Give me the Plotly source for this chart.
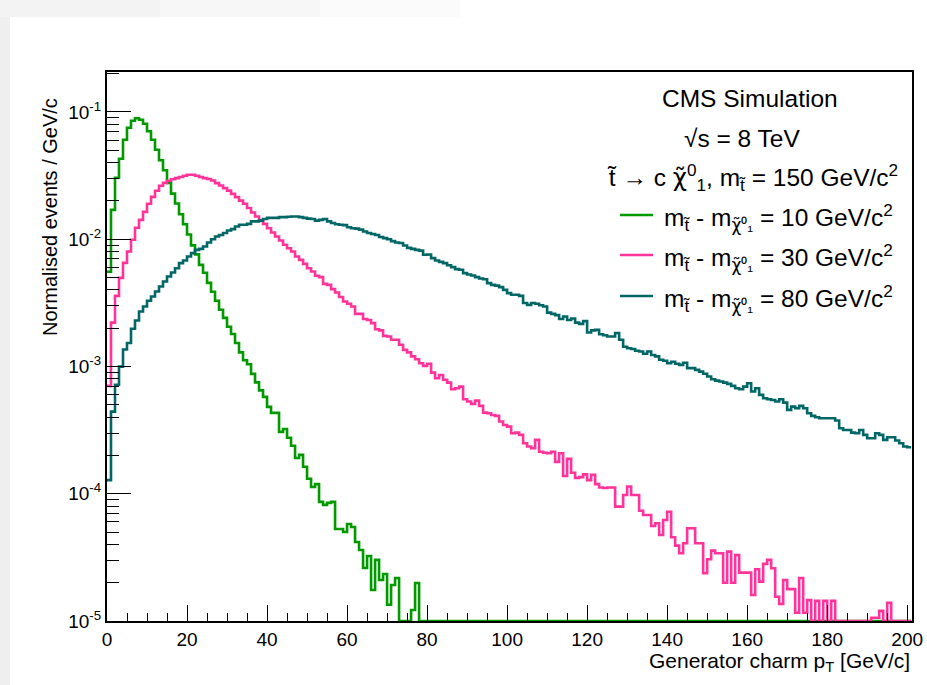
import numpy as np
import plotly.graph_objects as go

# ---------------- data (normalised events / GeV/c, 1 GeV/c bins starting at 0) ----------------
bin_width = 1.0
x_tick_vals = [0, 20, 40, 60, 80, 100, 120, 140, 160, 180, 200]
y_tick_vals = [1e-5, 1e-4, 1e-3, 1e-2, 1e-1]
y_tick_text = ["10<sup>-5</sup>", "10<sup>-4</sup>", "10<sup>-3</sup>", "10<sup>-2</sup>", "10<sup>-1</sup>"]

# dm = 10 GeV/c^2 (bins 0-77, empty afterwards)
green_dm10 = [
    5.55e-3, 1.70e-2, 3.04e-2, 4.29e-2, 6.04e-2, 7.52e-2, 8.53e-2, 8.91e-2, 8.69e-2, 8.07e-2,
    7.05e-2, 6.04e-2, 5.04e-2, 4.17e-2, 3.48e-2, 2.77e-2, 2.28e-2, 1.91e-2, 1.57e-2, 1.31e-2,
    1.09e-2, 8.95e-3, 7.60e-3, 6.29e-3, 5.45e-3, 4.54e-3, 3.86e-3, 3.28e-3, 2.79e-3, 2.41e-3,
    2.05e-3, 1.80e-3, 1.53e-3, 1.29e-3, 1.12e-3, 1.04e-3, 8.75e-4, 7.50e-4, 6.49e-4, 5.77e-4,
    4.81e-4, 4.32e-4, 4.32e-4, 3.06e-4, 3.23e-4, 2.75e-4, 2.38e-4, 1.91e-4, 2.02e-4, 1.63e-4,
    1.31e-4, 1.13e-4, 1.19e-4, 8.63e-5, 8.17e-5, 8.48e-5, 8.63e-5, 5.29e-5, 5.29e-5, 5.01e-5,
    5.79e-5, 5.48e-5, 4.18e-5, 3.61e-5, 2.61e-5, 3.24e-5, 1.75e-5, 3.02e-5, 2.10e-5, 2.34e-5,
    1.34e-5, 1.92e-5, 2.18e-5, 0, 0, 0, 1.22e-5, 1.99e-5,
] + [0] * 123

# dm = 30 GeV/c^2
pink_dm30 = [
    7.04e-4, 2.21e-3, 3.59e-3, 4.97e-3, 6.52e-3, 8.00e-3, 9.89e-3, 1.23e-2, 1.42e-2, 1.64e-2,
    1.90e-2, 2.15e-2, 2.40e-2, 2.63e-2, 2.77e-2, 2.88e-2, 2.96e-2, 3.02e-2, 3.08e-2, 3.15e-2,
    3.21e-2, 3.21e-2, 3.15e-2, 3.08e-2, 3.02e-2, 2.97e-2, 2.89e-2, 2.76e-2, 2.64e-2, 2.52e-2,
    2.41e-2, 2.27e-2, 2.14e-2, 2.01e-2, 1.90e-2, 1.76e-2, 1.62e-2, 1.51e-2, 1.40e-2, 1.32e-2,
    1.22e-2, 1.13e-2, 1.05e-2, 9.78e-3, 9.04e-3, 8.50e-3, 8.00e-3, 7.32e-3, 6.88e-3, 6.40e-3,
    5.92e-3, 5.57e-3, 5.16e-3, 5.04e-3, 4.46e-3, 4.38e-3, 4.05e-3, 3.81e-3, 3.51e-3, 3.24e-3,
    3.11e-3, 2.96e-3, 2.59e-3, 2.59e-3, 2.36e-3, 2.32e-3, 2.19e-3, 1.96e-3, 1.92e-3, 1.74e-3,
    1.72e-3, 1.62e-3, 1.62e-3, 1.48e-3, 1.35e-3, 1.29e-3, 1.20e-3, 1.14e-3, 1.06e-3, 1.01e-3,
    1.05e-3, 8.95e-4, 8.09e-4, 8.56e-4, 7.86e-4, 7.47e-4, 6.63e-4, 6.75e-4, 6.94e-4, 5.53e-4,
    5.30e-4, 5.08e-4, 5.39e-4, 4.90e-4, 4.34e-4, 4.29e-4, 4.16e-4, 4.09e-4, 3.69e-4, 3.47e-4,
    3.37e-4, 2.99e-4, 3.02e-4, 2.90e-4, 2.49e-4, 2.35e-4, 2.28e-4, 2.65e-4, 2.14e-4, 2.10e-4,
    2.08e-4, 2.14e-4, 1.78e-4, 2.08e-4, 1.38e-4, 1.88e-4, 1.46e-4, 1.33e-4, 1.35e-4, 1.42e-4,
    1.28e-4, 1.41e-4, 1.19e-4, 1.12e-4, 1.11e-4, 1.12e-4, 1.12e-4, 7.92e-5, 7.92e-5, 9.78e-5,
    1.14e-4, 9.78e-5, 9.78e-5, 7.36e-5, 6.81e-5, 6.81e-5, 5.58e-5, 5.86e-5, 4.74e-5, 6.22e-5,
    7.22e-5, 4.55e-5, 3.91e-5, 3.41e-5, 4.08e-5, 5.35e-5, 5.35e-5, 4.08e-5, 4.08e-5, 2.37e-5,
    3.06e-5, 3.57e-5, 3.41e-5, 3.41e-5, 2.00e-5, 3.51e-5, 2.00e-5, 3.30e-5, 2.40e-5, 2.40e-5,
    2.40e-5, 1.60e-5, 2.55e-5, 2.04e-5, 2.81e-5, 3.02e-5, 2.60e-5, 1.55e-5, 1.36e-5, 2.10e-5,
    1.78e-5, 1.78e-5, 1.16e-5, 2.18e-5, 1.16e-5, 1.46e-5, 0, 1.44e-5, 0, 1.44e-5,
    0, 1.44e-5, 0, 0, 0, 0, 0, 0, 0, 0,
    0, 1.06e-5, 1.06e-5, 1.20e-5, 0, 1.39e-5, 0, 0, 0, 0,
    0,
]

# dm = 80 GeV/c^2
teal_dm80 = [
    1.28e-4, 4.42e-4, 7.18e-4, 9.98e-4, 1.36e-3, 1.53e-3, 1.98e-3, 2.30e-3, 2.70e-3, 2.96e-3,
    3.28e-3, 3.55e-3, 3.88e-3, 4.25e-3, 4.65e-3, 5.09e-3, 5.47e-3, 5.92e-3, 6.49e-3, 6.80e-3,
    7.32e-3, 7.78e-3, 8.25e-3, 8.40e-3, 8.77e-3, 9.43e-3, 1.00e-2, 1.05e-2, 1.08e-2, 1.12e-2,
    1.17e-2, 1.20e-2, 1.26e-2, 1.30e-2, 1.30e-2, 1.32e-2, 1.38e-2, 1.38e-2, 1.40e-2, 1.44e-2,
    1.47e-2, 1.47e-2, 1.47e-2, 1.49e-2, 1.49e-2, 1.50e-2, 1.51e-2, 1.51e-2, 1.49e-2, 1.47e-2,
    1.45e-2, 1.44e-2, 1.40e-2, 1.42e-2, 1.44e-2, 1.38e-2, 1.34e-2, 1.31e-2, 1.30e-2, 1.29e-2,
    1.24e-2, 1.22e-2, 1.21e-2, 1.19e-2, 1.15e-2, 1.12e-2, 1.10e-2, 1.08e-2, 1.04e-2, 1.02e-2,
    1.00e-2, 9.66e-3, 9.43e-3, 9.33e-3, 8.93e-3, 8.55e-3, 8.40e-3, 8.25e-3, 8.14e-3, 7.55e-3,
    7.58e-3, 7.10e-3, 6.80e-3, 6.64e-3, 6.49e-3, 6.25e-3, 6.03e-3, 5.82e-3, 5.75e-3, 5.41e-3,
    5.28e-3, 5.18e-3, 5.04e-3, 4.91e-3, 4.85e-3, 4.52e-3, 4.38e-3, 4.32e-3, 4.20e-3, 4.00e-3,
    3.77e-3, 3.66e-3, 3.66e-3, 3.59e-3, 3.15e-3, 3.05e-3, 3.15e-3, 3.11e-3, 3.03e-3, 2.96e-3,
    2.65e-3, 2.59e-3, 2.53e-3, 2.36e-3, 2.47e-3, 2.32e-3, 2.38e-3, 2.21e-3, 2.16e-3, 2.27e-3,
    1.85e-3, 1.92e-3, 1.94e-3, 1.79e-3, 1.76e-3, 1.72e-3, 1.72e-3, 1.83e-3, 1.62e-3, 1.43e-3,
    1.39e-3, 1.37e-3, 1.33e-3, 1.31e-3, 1.26e-3, 1.31e-3, 1.23e-3, 1.20e-3, 1.13e-3, 1.11e-3,
    1.06e-3, 1.09e-3, 1.05e-3, 1.03e-3, 1.07e-3, 9.70e-4, 9.70e-4, 9.41e-4, 9.11e-4, 8.76e-4,
    8.34e-4, 7.94e-4, 7.74e-4, 7.61e-4, 7.47e-4, 7.30e-4, 7.04e-4, 6.75e-4, 6.63e-4, 6.94e-4,
    7.39e-4, 6.35e-4, 6.75e-4, 5.98e-4, 5.63e-4, 5.53e-4, 5.45e-4, 5.30e-4, 5.53e-4, 5.20e-4,
    4.56e-4, 4.84e-4, 4.70e-4, 4.90e-4, 4.70e-4, 4.29e-4, 4.09e-4, 3.99e-4, 3.92e-4, 3.92e-4,
    3.92e-4, 3.92e-4, 3.76e-4, 3.27e-4, 3.17e-4, 3.17e-4, 3.02e-4, 2.99e-4, 3.17e-4, 2.90e-4,
    2.73e-4, 2.73e-4, 2.99e-4, 2.90e-4, 2.65e-4, 2.78e-4, 2.78e-4, 2.62e-4, 2.49e-4, 2.35e-4,
    2.32e-4,
]

series_names = ["m_stop - m_chi = 10 GeV/c2", "m_stop - m_chi = 30 GeV/c2", "m_stop - m_chi = 80 GeV/c2"]
series_colors = ["#009a00", "#ff3399", "#006666"]
series_values = [green_dm10, pink_dm30, teal_dm80]

Y_MIN, Y_MAX = 1e-5, 0.206
X_MIN, X_MAX = 0.0, 201.2

# ---------------- figure ----------------
fig = go.Figure()
for name, color, vals in zip(series_names, series_colors, series_values):
    v = np.asarray(vals, dtype=float)
    v = np.where(v > 0, v, Y_MIN)          # empty bins drawn on the axis floor (ROOT style)
    edges = np.arange(len(v) + 1) * bin_width
    ys = np.append(v, v[-1])
    fig.add_trace(go.Scatter(x=edges, y=ys, mode="lines", name=name,
                             line=dict(color=color, width=2.6, shape="hv"),
                             showlegend=False, hoverinfo="skip"))

TICK_FONT = dict(family="Liberation Sans, Arial, Helvetica", size=19, color="black")
XT_FONT = dict(family="Liberation Sans, Arial, Helvetica", size=21, color="black")
YT_FONT = dict(family="Liberation Sans, Arial, Helvetica", size=20, color="black")
TX_FONT = dict(family="Liberation Sans, Arial, Helvetica", size=24.5, color="black")

fig.update_xaxes(range=[X_MIN, X_MAX], tickvals=x_tick_vals, ticks="inside", ticklen=16, tickwidth=1.3,
                 tickcolor="black", showline=True, linecolor="black", linewidth=2, mirror=True,
                 showgrid=False, zeroline=False, tickfont=TICK_FONT, automargin=False,
                 minor=dict(ticks="inside", ticklen=8, dtick=5, tick0=0, tickcolor="black", tickwidth=1.3,
                            showgrid=False))
minor_y = [k * 10.0 ** e for e in range(-5, 0) for k in range(2, 10)]
fig.update_yaxes(type="log", range=[np.log10(Y_MIN), np.log10(Y_MAX)], tickmode="array",
                 tickvals=y_tick_vals, ticktext=y_tick_text, ticks="inside", ticklen=24, tickwidth=1.3,
                 tickcolor="black", showline=True, linecolor="black", linewidth=2, mirror=True,
                 showgrid=False, zeroline=False, tickfont=TICK_FONT, automargin=False,
                 minor=dict(ticks="inside", ticklen=12, tickmode="array", tickvals=minor_y,
                            tickcolor="black", tickwidth=1.3, showgrid=False))

W, H = 927, 685
L, R, T, B = 107, 15, 72, 64
pw, ph = W - L - R, H - T - B


def px(xp):
    return (xp - L) / pw


def py(yp):
    return (H - B - yp) / ph


CHI = '<span style="font-family:DejaVu Sans">\u03c7\u0303</span>'
TST = 't\u0303'

ann = []
ann.append(dict(text="Normalised events / GeV/c", x=px(50), y=py(217), textangle=-90,
                xanchor="center", yanchor="middle", font=YT_FONT))
ann.append(dict(text="Generator charm p<sub>T</sub> [GeV/c]", x=1.0, y=py(662),
                xanchor="right", yanchor="middle", font=XT_FONT))
ann.append(dict(text="CMS Simulation", x=px(750), y=py(98), xanchor="center", yanchor="middle", font=TX_FONT))
ann.append(dict(text="\u221as = 8 TeV", x=px(742), y=py(138), xanchor="center", yanchor="middle", font=TX_FONT))
ann.append(dict(text=TST + " \u2192 c " + CHI + "<sup>0</sup><sub>1</sub>, m<sub>" + TST + "</sub> = 150 GeV/c<sup>2</sup>",
                x=px(752), y=py(177), xanchor="center", yanchor="middle", font=TX_FONT))
legend_texts = ["m<sub>" + TST + "</sub> - m<sub>" + CHI + "\u2070\u2081</sub> = " + dm + " GeV/c<sup>2</sup>"
                for dm in ("10", "30", "80")]
legend_y = [217, 257, 298]
shapes = []
for t, yy, c in zip(legend_texts, legend_y, series_colors):
    ann.append(dict(text=t, x=px(662), y=py(yy), xanchor="left", yanchor="middle", font=TX_FONT))
    shapes.append(dict(type="line", xref="paper", yref="paper", x0=px(620), x1=px(653),
                       y0=py(yy - 2), y1=py(yy - 2), line=dict(color=c, width=2.6)))
for a in ann:
    a.update(xref="paper", yref="paper", showarrow=False)

# light grey canvas edge of the original screenshot
shapes.append(dict(type="rect", xref="paper", yref="paper", x0=px(0), x1=px(10), y0=py(H), y1=py(0),
                   fillcolor="#efefef", line=dict(width=0), layer="below"))
shapes.append(dict(type="rect", xref="paper", yref="paper", x0=px(0), x1=px(160), y0=py(17), y1=py(0),
                   fillcolor="#f3f3f3", line=dict(width=0), layer="below"))
shapes.append(dict(type="rect", xref="paper", yref="paper", x0=px(160), x1=px(320), y0=py(17), y1=py(0),
                   fillcolor="#f7f7f7", line=dict(width=0), layer="below"))
shapes.append(dict(type="rect", xref="paper", yref="paper", x0=px(320), x1=px(460), y0=py(17), y1=py(0),
                   fillcolor="#fbfbfb", line=dict(width=0), layer="below"))

fig.update_layout(width=W, height=H, margin=dict(l=L, r=R, t=T, b=B, autoexpand=False),
                  paper_bgcolor="white", plot_bgcolor="white",
                  annotations=ann, shapes=shapes, showlegend=False)

# remove the default 8px page margin so the figure fills the 927x685 window exactly
fig.write_html("out.html", config={"displayModeBar": False},
               post_script="document.body.style.margin='0px';")
